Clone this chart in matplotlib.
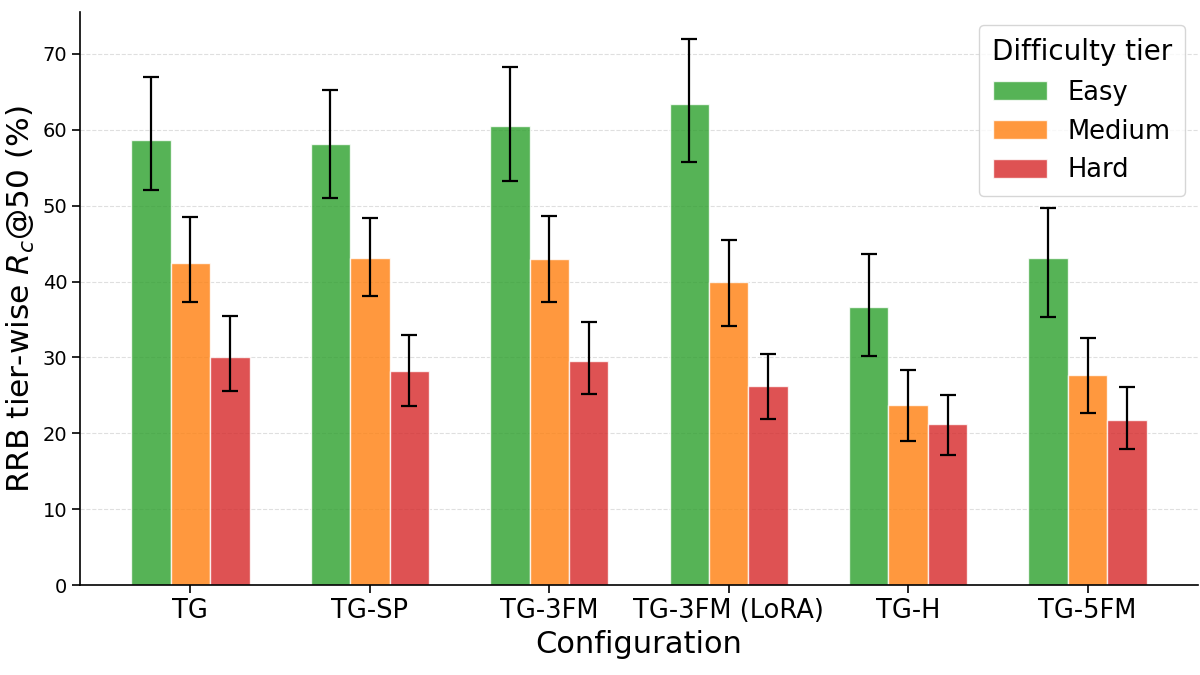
import matplotlib
matplotlib.use("Agg")
import matplotlib.pyplot as plt
import numpy as np

configs = ["TG", "TG-SP", "TG-3FM", "TG-3FM (LoRA)", "TG-H", "TG-5FM"]
tiers = ["Easy", "Medium", "Hard"]

# mean values (%)
easy = [58.7, 58.1, 60.5, 63.4, 36.6, 43.1]
medium = [42.5, 43.1, 43.0, 39.9, 23.7, 27.7]
hard = [30.1, 28.2, 29.6, 26.3, 21.2, 21.8]

# error bar ends (upper / lower)
easy_hi = [67.0, 65.3, 68.3, 71.9, 43.7, 49.7]
easy_lo = [52.1, 51.0, 53.3, 55.7, 30.2, 35.3]
medium_hi = [48.5, 48.4, 48.6, 45.5, 28.4, 32.6]
medium_lo = [37.3, 38.1, 37.3, 34.2, 19.0, 22.7]
hard_hi = [35.5, 32.9, 34.7, 30.5, 25.1, 26.1]
hard_lo = [25.6, 23.6, 25.2, 21.9, 17.2, 17.9]

colors = ["tab:green", "tab:orange", "tab:red"]

fig, ax = plt.subplots(figsize=(12, 6.75), dpi=100)

x = np.arange(len(configs))
w = 0.22

series = [(easy, easy_lo, easy_hi), (medium, medium_lo, medium_hi), (hard, hard_lo, hard_hi)]
for i, (vals, lo, hi) in enumerate(series):
    vals = np.array(vals)
    yerr = [vals - np.array(lo), np.array(hi) - vals]
    ax.bar(x + (i - 1) * w, vals, w, color=colors[i], alpha=0.8,
           edgecolor="white", linewidth=1, label=tiers[i],
           yerr=yerr, capsize=6,
           error_kw=dict(elinewidth=1.6, capthick=1.6, ecolor="black"))

ax.set_xticks(x)
ax.set_xticklabels(configs, fontsize=18.5)
ax.tick_params(axis="y", labelsize=14)
ax.tick_params(axis="both", length=6, width=1.2)
ax.set_xlabel("Configuration", fontsize=22, labelpad=4)
ax.set_ylabel("RRB tier-wise $R_c$@50 (%)", fontsize=22.5, labelpad=4)
ax.yaxis.grid(True, linestyle="--", alpha=0.4)
ax.set_axisbelow(True)
ax.spines["top"].set_visible(False)
ax.spines["right"].set_visible(False)
ax.spines["left"].set_linewidth(1.2)
ax.spines["bottom"].set_linewidth(1.2)

leg = ax.legend(title="Difficulty tier", fontsize=18.5, title_fontsize=20,
                loc="upper right", handlelength=2.1, handleheight=0.75,
                handletextpad=0.8, borderaxespad=0.5, borderpad=0.5)
leg._legend_box.sep = 10

fig.subplots_adjust(left=0.067, right=0.998, top=0.982, bottom=0.133)
fig.savefig("out.png", dpi=100)
